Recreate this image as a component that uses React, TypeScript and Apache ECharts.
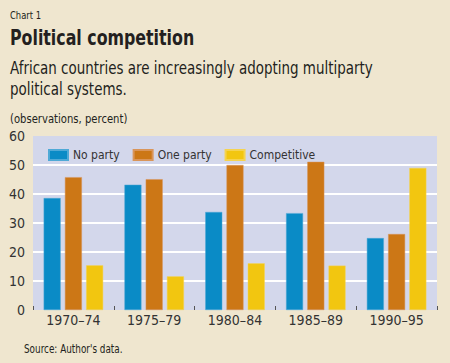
import React, { useEffect, useRef } from "react";
import * as echarts from "echarts";

const categories = ["1970–74", "1975–79", "1980–84", "1985–89", "1990–95"];
const noParty = [38.6, 43.2, 33.8, 33.4, 24.8];
const oneParty = [45.8, 45.1, 50.0, 51.1, 26.2];
const competitive = [15.4, 11.6, 16.1, 15.3, 49.0];
const yTicks = [0, 10, 20, 30, 40, 50, 60];

const FONT = '"Liberation Sans Narrow", "DejaVu Sans Condensed", "Roboto Condensed", "Arial Narrow", sans-serif';

function txt(text: string, x: number, y: number, size: number, sx: number, bold = false) {
  return {
    type: "text",
    x,
    y,
    scaleX: sx,
    style: {
      text,
      fontFamily: FONT,
      fontSize: size,
      fontWeight: bold ? "bold" : "normal",
      fill: "#231f20",
      verticalAlign: "middle",
      align: "left",
    },
  };
}

export default function App() {
  const ref = useRef<HTMLDivElement>(null);
  useEffect(() => {
    document.body.style.margin = "0";
    const chart = echarts.init(ref.current!, null, { renderer: "svg" });
    chart.setOption({
      animation: false,
      backgroundColor: "#efe6cf",
      textStyle: { fontFamily: FONT },
      graphic: [
        txt("Chart 1", 10, 15, 11, 0.85),
        txt("Political competition", 10, 38, 22, 0.8, true),
        txt("African countries are increasingly adopting multiparty", 10, 68, 17, 0.88),
        txt("political systems.", 10, 89, 17, 0.88),
        txt("(observations, percent)", 10, 119, 13, 0.86),
        txt("Source: Author's data.", 24, 349, 12, 0.82),
      ],
      legend: {
        left: 43,
        top: 144,
        itemWidth: 19,
        itemHeight: 10,
        itemGap: 13,
        icon: "rect",
        textStyle: { fontFamily: FONT, fontSize: 12, color: "#333" },
        data: ["No party", "One party", "Competitive"],
      },
      grid: {
        left: 33,
        right: 13,
        top: 136,
        bottom: 53,
        show: true,
        backgroundColor: "#d3d7eb",
        borderWidth: 0,
      },
      xAxis: {
        type: "category",
        data: categories,
        axisLine: { show: false },
        axisTick: { show: true, inside: true, length: 4, lineStyle: { color: "#555", width: 1 } },
        axisLabel: { fontFamily: FONT, fontSize: 14, color: "#333", margin: 3 },
      },
      yAxis: {
        type: "value",
        min: yTicks[0],
        max: yTicks[yTicks.length - 1],
        interval: 10,
        axisLine: { show: false },
        axisTick: { show: false },
        axisLabel: { fontFamily: FONT, fontSize: 14, color: "#333", margin: 8 },
        splitLine: {
          show: true,
          lineStyle: {
            color: ["transparent", "#ffffff", "#ffffff", "#ffffff", "#ffffff", "#ffffff", "transparent"],
            width: 2,
          },
        },
      },
      series: [
        { name: "No party", type: "bar", data: noParty, barWidth: 17, barGap: "25%", itemStyle: { color: "#0a8bc6", borderColor: "#4fa9d6", borderWidth: 0.5 } },
        { name: "One party", type: "bar", data: oneParty, barWidth: 17, barGap: "25%", itemStyle: { color: "#cc7716", borderColor: "#d9955a", borderWidth: 0.5 } },
        { name: "Competitive", type: "bar", data: competitive, barWidth: 17, barGap: "25%", itemStyle: { color: "#f2c610", borderColor: "#f5d350", borderWidth: 0.5 } },
      ],
    });
    return () => chart.dispose();
  }, []);
  return <div ref={ref} style={{ width: 450, height: 363 }} />;
}
